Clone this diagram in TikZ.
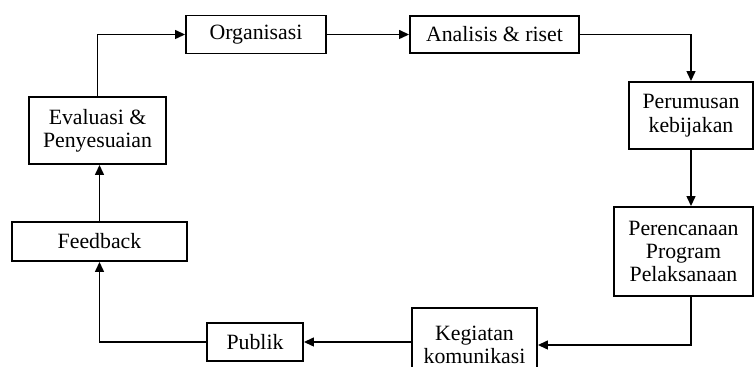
\documentclass[tikz,border=0pt]{standalone}
\usepackage{fontspec}
\setmainfont{Liberation Serif}
\usetikzlibrary{arrows.meta}

\begin{document}
\begin{tikzpicture}[x=0.5pt,y=-0.5pt,
    box/.style={draw, line width=0.9pt, align=center, inner sep=0pt,
                font=\fontsize{10.9}{11.7}\selectfont},
    arr/.style={-{Triangle[length=5pt,width=4.4pt]}, line width=0.9pt}]
    \useasboundingbox (0,0) rectangle (755,367);

    % Top row
    \node[box, minimum width=70pt, minimum height=19pt] (org) at (256,34.5) {Organisasi};
    \node[box, minimum width=84.5pt, minimum height=18.5pt] (ana) at (494.5,34.5) {Analisis \& riset};

    % Right column
    \node[box, minimum width=62pt, minimum height=33.5pt] (perum) at (691,115.5) {Perumusan\\kebijakan};
    \node[box, minimum width=69.5pt, minimum height=44.5pt] (peren) at (683.5,251.5) {Perencanaan\\Program\\Pelaksanaan};

    % Bottom row (box runs off the page)
    \node[box, minimum width=62.5pt, minimum height=37pt] (keg) at (474.5,345) {Kegiatan\\komunikasi};
    \node[box, minimum width=48pt, minimum height=19pt] (pub) at (255,342) {Publik};

    % Left column
    \node[box, minimum width=87.5pt, minimum height=19.5pt] (feed) at (99.5,241.5) {Feedback};
    \node[box, minimum width=68.5pt, minimum height=33.5pt] (eval) at (97.5,130.5) {Evaluasi \&\\Penyesuaian};

    % Arrows round the cycle
    \draw[arr] (eval.north) |- (org.west);
    \draw[arr] (org.east) -- (org.east -| ana.west);
    \draw[arr] (ana.east) -| (perum.north);
    \draw[arr] (perum.south) -- (perum.south |- peren.north);
    \draw[arr] (perum.south |- peren.south) |- (keg.east);
    \draw[arr] (pub.east -| keg.west) -- (pub.east);
    \draw[arr] (pub.west) -| (feed.south);
    \draw[arr] (feed.north) -- (feed.north |- eval.south);
\end{tikzpicture}
\end{document}
